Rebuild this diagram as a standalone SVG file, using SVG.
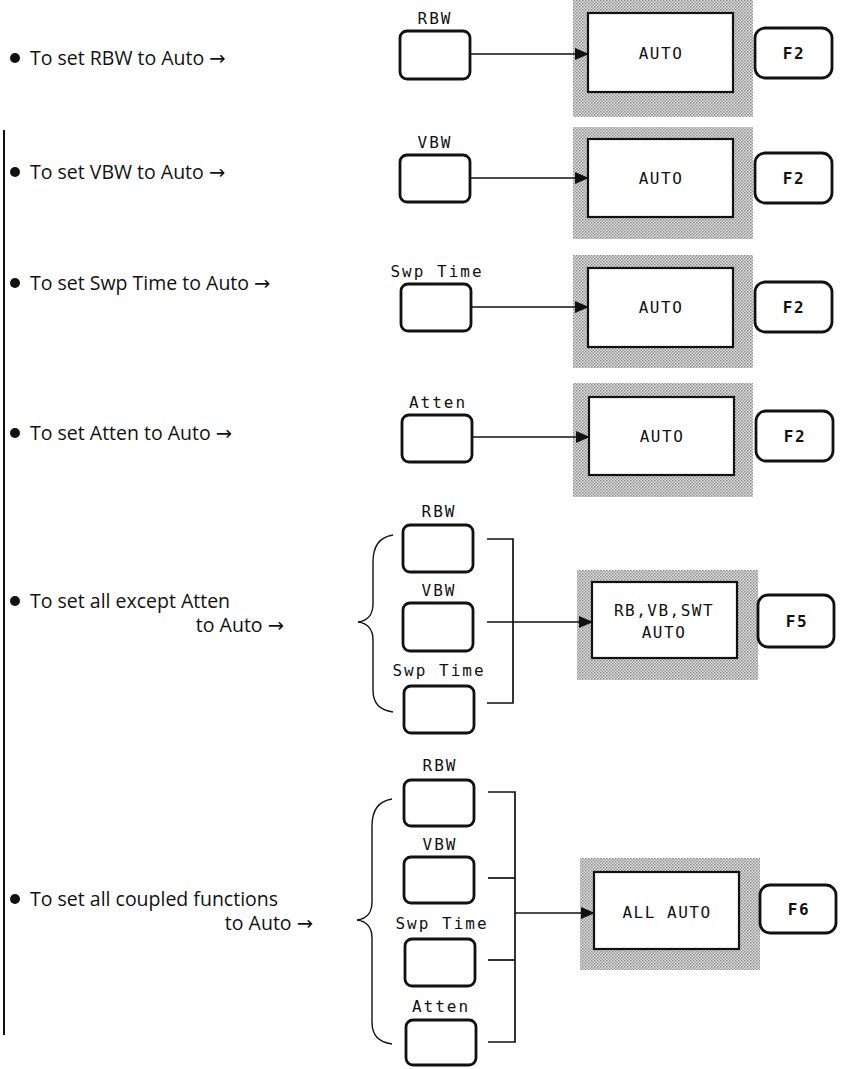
<svg xmlns="http://www.w3.org/2000/svg" width="842" height="1069" viewBox="0 0 842 1069">
<style>
.desc{font-family:"Open Sans","Noto Sans",sans-serif;font-size:19.5px;fill:#111}
.arr{font-family:"DejaVu Sans",sans-serif;font-size:19.5px}
.lbl{font-family:"DejaVu Sans Mono",monospace;font-size:16px;letter-spacing:2px;fill:#111;text-anchor:middle}
.scr{font-family:"DejaVu Sans Mono",monospace;font-size:16px;letter-spacing:1.5px;fill:#111;text-anchor:middle}
.fk{font-family:"DejaVu Sans Mono",monospace;font-size:16px;letter-spacing:1.5px;font-weight:bold;fill:#111;text-anchor:middle}
.key{fill:#fff;stroke:#111;stroke-width:2.8}
.white{fill:#fff;stroke:#111;stroke-width:2.2}
.shade{fill:url(#dots)}
.ln{fill:none;stroke:#111;stroke-width:1.7}
.br{fill:none;stroke:#111;stroke-width:1.4}
</style>
<defs>
<pattern id="dots" width="3" height="3" patternUnits="userSpaceOnUse">
<rect width="3" height="3" fill="#e2e2e2"/>
<rect width="1.5" height="1.5" fill="#8a8a8a"/>
<rect x="1.5" y="1.5" width="1.5" height="1.5" fill="#9a9a9a"/>
</pattern>
<marker id="ah" markerWidth="14" markerHeight="12" refX="13" refY="6" orient="auto" markerUnits="userSpaceOnUse">
<path d="M0,0 L14,6 L0,12 Z" fill="#111"/>
</marker>
</defs>

<line x1="4" y1="130" x2="4" y2="1035" stroke="#111" stroke-width="2"/>

<g id="desc1"><circle cx="15" cy="58" r="5" fill="#111"/><text class="desc" x="30" y="65">To set RBW to Auto <tspan class="arr">→</tspan></text></g>
<g id="desc2"><circle cx="15" cy="172" r="5" fill="#111"/><text class="desc" x="30" y="179">To set VBW to Auto <tspan class="arr">→</tspan></text></g>
<g id="desc3"><circle cx="15" cy="283" r="5" fill="#111"/><text class="desc" x="30" y="290">To set Swp Time to Auto <tspan class="arr">→</tspan></text></g>
<g id="desc4"><circle cx="15" cy="433" r="5" fill="#111"/><text class="desc" x="30" y="440">To set Atten to Auto <tspan class="arr">→</tspan></text></g>
<g id="desc5"><circle cx="15" cy="601" r="5" fill="#111"/><text class="desc" x="30" y="608">To set all except Atten</text><text class="desc" x="284" y="632" text-anchor="end">to Auto <tspan class="arr">→</tspan></text></g>
<g id="desc6"><circle cx="15" cy="899" r="5" fill="#111"/><text class="desc" x="30" y="906">To set all coupled functions</text><text class="desc" x="313" y="930" text-anchor="end">to Auto <tspan class="arr">→</tspan></text></g>

<!-- Row 1 -->
<g id="key-rbw1"><text class="lbl" x="435" y="24">RBW</text><rect class="key" x="400" y="31" width="70" height="48" rx="7"/></g>
<g id="screen1"><rect class="shade" x="573" y="-2" width="180" height="119"/><rect class="white" x="588" y="13" width="145" height="79"/><text class="scr" x="661" y="59">AUTO</text></g>
<g id="f2-1"><rect class="key" x="755" y="28" width="77" height="50" rx="10"/><text class="fk" x="794" y="59">F2</text></g>

<!-- Row 2 -->
<g id="key-vbw2"><text class="lbl" x="435" y="148">VBW</text><rect class="key" x="400" y="155" width="70" height="47" rx="7"/></g>
<g id="screen2"><rect class="shade" x="573" y="127" width="180" height="112"/><rect class="white" x="588" y="139" width="145" height="78"/><text class="scr" x="661" y="184">AUTO</text></g>
<g id="f2-2"><rect class="key" x="755" y="153" width="77" height="50" rx="10"/><text class="fk" x="794" y="184">F2</text></g>

<!-- Row 3 -->
<g id="key-swp3"><text class="lbl" x="437" y="277">Swp Time</text><rect class="key" x="401" y="284" width="70" height="47" rx="7"/></g>
<g id="screen3"><rect class="shade" x="573" y="255" width="180" height="113"/><rect class="white" x="588" y="268" width="145" height="79"/><text class="scr" x="661" y="313">AUTO</text></g>
<g id="f2-3"><rect class="key" x="755" y="282" width="77" height="50" rx="10"/><text class="fk" x="794" y="313">F2</text></g>

<!-- Row 4 -->
<g id="key-atten4"><text class="lbl" x="438" y="408">Atten</text><rect class="key" x="402" y="415" width="70" height="47" rx="7"/></g>
<g id="screen4"><rect class="shade" x="573" y="383" width="180" height="114"/><rect class="white" x="589" y="397" width="145" height="78"/><text class="scr" x="662" y="442">AUTO</text></g>
<g id="f2-4"><rect class="key" x="756" y="411" width="77" height="50" rx="10"/><text class="fk" x="795" y="442">F2</text></g>

<!-- Row 5 -->
<g id="key-rbw5"><text class="lbl" x="439" y="517">RBW</text><rect class="key" x="403" y="525" width="70" height="47" rx="7"/></g>
<g id="key-vbw5"><text class="lbl" x="439" y="596">VBW</text><rect class="key" x="403" y="603" width="70" height="48" rx="7"/></g>
<g id="key-swp5"><text class="lbl" x="439" y="676">Swp Time</text><rect class="key" x="404" y="686" width="70" height="47" rx="7"/></g>
<g id="screen5"><rect class="shade" x="577" y="570" width="181" height="110"/><rect class="white" x="592" y="582" width="145" height="76"/><text class="scr" x="664" y="616">RB,VB,SWT</text><text class="scr" x="664" y="638">AUTO</text></g>
<g id="f5"><rect class="key" x="758" y="595" width="76" height="52" rx="10"/><text class="fk" x="797" y="627">F5</text></g>

<!-- Row 6 -->
<g id="key-rbw6"><text class="lbl" x="440" y="771">RBW</text><rect class="key" x="404" y="780" width="70" height="46" rx="7"/></g>
<g id="key-vbw6"><text class="lbl" x="440" y="850">VBW</text><rect class="key" x="404" y="857" width="70" height="46" rx="7"/></g>
<g id="key-swp6"><text class="lbl" x="442" y="929">Swp Time</text><rect class="key" x="405" y="939" width="70" height="47" rx="7"/></g>
<g id="key-atten6"><text class="lbl" x="441" y="1012">Atten</text><rect class="key" x="406" y="1020" width="70" height="45" rx="7"/></g>
<g id="screen6"><rect class="shade" x="580" y="858" width="180" height="112"/><rect class="white" x="594" y="872" width="145" height="77"/><text class="scr" x="667" y="918">ALL AUTO</text></g>
<g id="f6"><rect class="key" x="760" y="885" width="76" height="48" rx="10"/><text class="fk" x="799" y="915">F6</text></g>

<g id="connectors">
<line class="ln" x1="470" y1="54" x2="588" y2="54" marker-end="url(#ah)"/>
<line class="ln" x1="470" y1="178" x2="588" y2="178" marker-end="url(#ah)"/>
<line class="ln" x1="471" y1="307" x2="588" y2="307" marker-end="url(#ah)"/>
<line class="ln" x1="472" y1="437" x2="589" y2="437" marker-end="url(#ah)"/>
<path class="ln" d="M487,539 H513 V703 H487"/>
<line class="ln" x1="487" y1="622" x2="592" y2="622" marker-end="url(#ah)"/>
<path class="br" d="M393,535 C380,537 373,546 373,562 L373,604 C373,615 367,621 358,622 C367,623 373,629 373,640 L373,690 C373,704 380,710 393,712"/>
<path class="ln" d="M488,792 H515 V1042 H488"/>
<line class="ln" x1="488" y1="878" x2="515" y2="878"/>
<line class="ln" x1="488" y1="960" x2="515" y2="960"/>
<line class="ln" x1="515" y1="913" x2="594" y2="913" marker-end="url(#ah)"/>
<path class="br" d="M392,799 C379,801 372,810 372,826 L372,902 C372,913 366,919 357,920 C366,921 372,927 372,938 L372,1022 C372,1036 379,1042 392,1044"/>
</g>
</svg>
